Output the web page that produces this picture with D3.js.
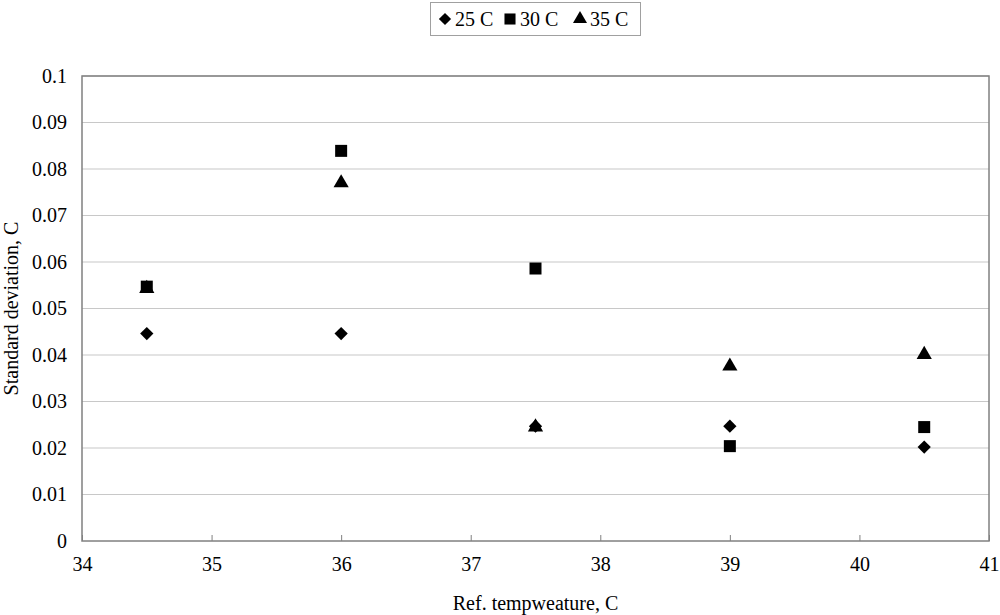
<!DOCTYPE html>
<html>
<head>
<meta charset="utf-8">
<script src="https://cdn.jsdelivr.net/npm/d3@7"></script>
<style>
  body { margin: 0; background: #fff; }
  svg text { font-family: "Liberation Serif", "Times New Roman", "DejaVu Serif", serif !important; fill: #000; }
</style>
</head>
<body>
<div id="chart"></div>
<script>
const refTemps = [34.5, 36, 37.5, 39, 40.5];
const sd25 = [0.0446, 0.0446, 0.0247, 0.0247, 0.0202];
const sd30 = [0.0547, 0.0839, 0.0586, 0.0204, 0.0245];
const sd35 = [0.0543, 0.0770, 0.0245, 0.0376, 0.0401];
const seriesNames = ["25 C", "30 C", "35 C"];
const xTicks = [34, 35, 36, 37, 38, 39, 40, 41];
const yTicks = [0, 0.01, 0.02, 0.03, 0.04, 0.05, 0.06, 0.07, 0.08, 0.09, 0.1];

const FONT = '"Liberation Serif", "Times New Roman", serif';
let width = 1000,
  height = 615;
let plotLeft = 82, plotRight = 989, plotTop = 76, plotBottom = 541;

let svg = d3
  .select("#chart")
  .append("svg")
  .attr("width", width)
  .attr("height", height)
  .attr("font-family", FONT);

let x = d3.scaleLinear().domain([34, 41]).range([plotLeft, plotRight]);
let y = d3.scaleLinear().domain([0, 0.1]).range([plotBottom, plotTop]);

// gridlines
svg.append("g")
  .selectAll("line")
  .data(yTicks.slice(1))
  .join("line")
  .attr("x1", plotLeft)
  .attr("x2", plotRight)
  .attr("y1", d => y(d))
  .attr("y2", d => y(d))
  .attr("stroke", "#c8c8c8")
  .attr("stroke-width", 1.2);

// frame
svg.append("rect")
  .attr("x", plotLeft)
  .attr("y", plotTop)
  .attr("width", plotRight - plotLeft)
  .attr("height", plotBottom - plotTop)
  .attr("fill", "none")
  .attr("stroke", "#808080")
  .attr("stroke-width", 1.5);

// x axis
let xAxis = svg.append("g")
  .attr("transform", `translate(0,${plotBottom})`)
  .call(d3.axisBottom(x).tickValues(xTicks).tickFormat(d3.format("d")).tickSizeInner(-6).tickSizeOuter(0).tickPadding(16));
xAxis.attr("font-family", FONT);
xAxis.select(".domain").remove();
xAxis.selectAll(".tick line").attr("stroke", "#808080");
xAxis.selectAll("text").attr("font-size", "20px");

// y axis
let yAxis = svg.append("g")
  .attr("transform", `translate(${plotLeft},0)`)
  .call(d3.axisLeft(y).tickValues(yTicks).tickFormat(d => d === 0 ? "0" : String(+d.toFixed(2))).tickSize(0).tickPadding(15));
yAxis.attr("font-family", FONT);
yAxis.select(".domain").remove();
yAxis.selectAll("text").attr("font-size", "20px");

// axis titles
svg.append("text")
  .attr("x", (plotLeft + plotRight) / 2)
  .attr("y", 610)
  .attr("text-anchor", "middle")
  .attr("font-size", "20px")
  .text("Ref. tempweature, C");

svg.append("text")
  .attr("transform", `translate(18,${(plotTop + plotBottom) / 2}) rotate(-90)`)
  .attr("text-anchor", "middle")
  .attr("font-size", "20px")
  .text("Standard deviation, C");

// markers
const symbols = [d3.symbolDiamond2, d3.symbolSquare, d3.symbolTriangle];
const sizes = [112, 144, 100];
const allSeries = [sd25, sd30, sd35];

allSeries.forEach(function (vals, s) {
  svg.append("g")
    .selectAll("path")
    .data(vals)
    .join("path")
    .attr("d", d3.symbol().type(symbols[s]).size(sizes[s]))
    .attr("transform", (d, i) => `translate(${x(refTemps[i])},${y(d)})`)
    .attr("fill", "#000");
});

// legend
let lg = svg.append("g");
lg.append("rect")
  .attr("x", 430.5)
  .attr("y", 2.5)
  .attr("width", 210)
  .attr("height", 33)
  .attr("fill", "#fff")
  .attr("stroke", "#a0a0a0");
const legendX = [445, 510, 580];
seriesNames.forEach(function (name, s) {
  lg.append("path")
    .attr("d", d3.symbol().type(symbols[s]).size(sizes[s] * 0.85))
    .attr("transform", `translate(${legendX[s]},19)`)
    .attr("fill", "#000");
  lg.append("text")
    .attr("x", legendX[s] + 10)
    .attr("y", 26)
    .attr("font-size", "20px")
    .text(name);
});
</script>
</body>
</html>
